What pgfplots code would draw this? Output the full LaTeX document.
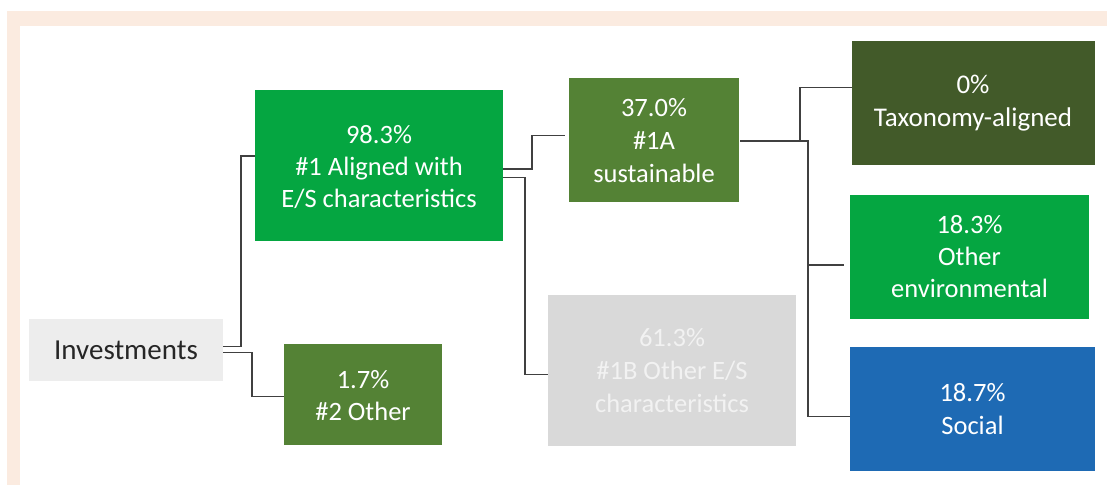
\documentclass[border=0pt]{standalone}
\usepackage{pgfplots}
\pgfplotsset{compat=1.18}
\usepackage{fontspec}
\setmainfont{Carlito}
\definecolor{peach}{HTML}{FBEBE0}
\definecolor{bgreen}{HTML}{05A641}
\definecolor{olive}{HTML}{548235}
\definecolor{dgreen}{HTML}{425A29}
\definecolor{sblue}{HTML}{1E6AB4}
\definecolor{lgray}{HTML}{EDEDED}
\definecolor{mgray}{HTML}{D9D9D9}
\definecolor{conn}{HTML}{404040}
\begin{document}
\begin{tikzpicture}
\begin{axis}[
  scale only axis, width=1107pt, height=485pt,
  xmin=0, xmax=1107, ymin=0, ymax=485, y dir=reverse,
  hide axis, clip=false,
]
% full canvas
\path (axis cs:0,0) rectangle (axis cs:1107,485);
% frame
\fill[peach] (axis cs:7,11) rectangle (axis cs:1107,26);
\fill[peach] (axis cs:7,11) rectangle (axis cs:20,485);
% connectors
\addplot[conn, line width=1.3pt, mark=none] coordinates {(222,346.7) (241,346.7) (241,156) (260,156)};
\addplot[conn, line width=1.3pt, mark=none] coordinates {(222,352.3) (252,352.3) (252,396.3) (284,396.3)};
\addplot[conn, line width=1.3pt, mark=none] coordinates {(500,169) (532,169) (532,135.3) (565,135.3)};
\addplot[conn, line width=1.3pt, mark=none] coordinates {(500,177.7) (525,177.7) (525,374.5) (548,374.5)};
\addplot[conn, line width=1.3pt, mark=none] coordinates {(740,141) (808,141) (808,416.7) (852,416.7)};
\addplot[conn, line width=1.3pt, mark=none] coordinates {(800,141) (800,87.7) (856,87.7)};
\addplot[conn, line width=1.3pt, mark=none] coordinates {(808,265) (844,265)};
% boxes
\fill[lgray] (axis cs:29,319) rectangle (axis cs:223,381);
\fill[bgreen] (axis cs:255,90) rectangle (axis cs:503,241);
\fill[olive] (axis cs:284,344) rectangle (axis cs:442,445);
\fill[olive] (axis cs:569,78) rectangle (axis cs:739,202);
\fill[mgray] (axis cs:548,295) rectangle (axis cs:796,446);
\fill[dgreen] (axis cs:852,41) rectangle (axis cs:1095,165);
\fill[bgreen] (axis cs:850,195) rectangle (axis cs:1089,319);
\fill[sblue] (axis cs:850,347) rectangle (axis cs:1095,471);
% texts
\node[text={rgb,255:red,38;green,38;blue,38}, font=\fontsize{29}{34}\selectfont] at (axis cs:126,350) {Investments};
\node[white, align=center, font=\fontsize{26.5}{32}\selectfont] at (axis cs:379,167) {98.3\%\\\#1 Aligned with\\E/S characteristics};
\node[white, align=center, font=\fontsize{26.5}{32}\selectfont] at (axis cs:363,396) {1.7\%\\\#2 Other};
\node[white, align=center, font=\fontsize{26.5}{33}\selectfont] at (axis cs:654,141) {37.0\%\\\#1A\\sustainable};
\node[text={rgb,255:red,242;green,242;blue,242}, align=center, font=\fontsize{26.5}{33}\selectfont] at (axis cs:672,371) {61.3\%\\\#1B Other E/S\\characteristics};
\node[white, align=center, font=\fontsize{27}{33}\selectfont] at (axis cs:973,103.5) {0\%\\Taxonomy-aligned};
\node[white, align=center, font=\fontsize{26.5}{32}\selectfont] at (axis cs:969.5,257) {18.3\%\\Other\\environmental};
\node[white, align=center, font=\fontsize{26.5}{33}\selectfont] at (axis cs:972.5,409.5) {18.7\%\\Social};
\end{axis}
\end{tikzpicture}
\end{document}
